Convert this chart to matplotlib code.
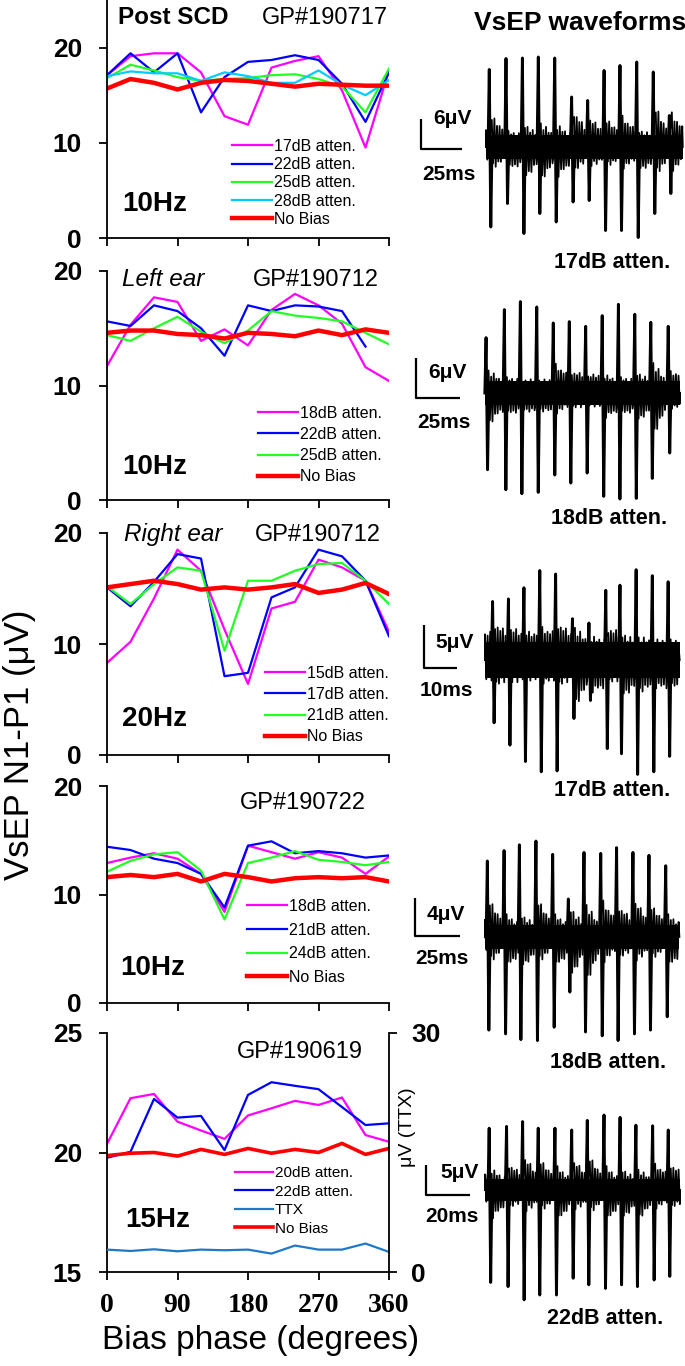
import numpy as np
import matplotlib
matplotlib.use('Agg')
import matplotlib.pyplot as plt

plt.rcParams['font.family'] = ['Liberation Sans', 'DejaVu Sans']

# ---------------- data: bias phase curves ----------------
phase = [0, 30, 60, 90, 120, 150, 180, 210, 240, 270, 300, 330, 360]
phase_ticks = [0, 90, 180, 270, 360]
nan = float('nan')

# Panel A: Post SCD, GP#190717, 10 Hz
a_17db = [17.1, 19.1, 19.4, 19.4, 17.4, 12.8, 11.9, 17.9, 18.6, 19.1, 15.5, 9.5, 17.6]
a_22db = [17.1, 19.4, 17.4, 19.4, 13.2, 16.9, 18.5, 18.7, 19.2, 18.7, 16.2, 12.2, 17.4]
a_25db = [16.8, 18.2, 17.6, 16.9, 16.5, 16.7, 16.8, 17.1, 17.2, 16.7, 15.9, 13.2, 17.8]
a_28db = [17.0, 17.5, 17.3, 17.3, 16.5, 17.4, 17.0, 16.3, 16.3, 17.6, 16.1, 15.0, 16.6]
a_nobias = [15.7, 16.7, 16.3, 15.6, 16.3, 16.6, 16.5, 16.2, 15.9, 16.2, 16.1, 16.0, 16.0]

# Panel B: Left ear, GP#190712, 10 Hz
b_18db = [11.7, 15.3, 17.7, 17.3, 13.9, 14.9, 13.5, 16.6, 18.0, 17.0, 15.4, 11.6, 10.4]
b_22db = [15.6, 15.2, 17.0, 16.5, 15.0, 12.6, 17.0, 16.5, 17.0, 16.9, 16.5, 13.4, nan]
b_25db = [14.4, 13.9, 15.0, 16.0, 14.7, 13.7, 14.8, 16.5, 16.1, 15.9, 15.6, 14.6, 13.6]
b_nobias = [14.6, 14.8, 14.8, 14.5, 14.4, 14.1, 14.6, 14.5, 14.3, 14.8, 14.4, 14.9, 14.6]

# Panel C: Right ear, GP#190712, 20 Hz
c_15db = [8.3, 10.2, 14.1, 18.5, 16.6, 11.3, 6.4, 13.2, 13.8, 17.6, 16.9, 15.7, 11.1]
c_17db = [15.1, 13.4, 15.6, 18.1, 17.7, 7.1, 7.4, 14.2, 15.1, 18.5, 17.9, 15.7, 10.7]
c_21db = [15.2, 13.6, 15.4, 16.9, 16.6, 9.4, 15.7, 15.7, 16.6, 17.2, 17.3, 15.7, 13.6]
c_nobias = [15.1, 15.4, 15.7, 15.4, 14.9, 15.1, 14.9, 15.1, 15.4, 14.6, 14.9, 15.5, 14.5]

# Panel D: GP#190722, 10 Hz
d_18db = [12.9, 13.4, 13.8, 13.3, 11.9, 8.4, 14.5, 13.9, 13.3, 13.9, 13.4, 11.9, 13.5]
d_21db = [14.4, 14.1, 13.3, 12.9, 11.9, 8.8, 14.5, 14.9, 13.8, 14.0, 13.8, 13.4, 13.6]
d_24db = [12.1, 13.1, 13.7, 13.9, 12.2, 7.7, 12.9, 13.4, 14.0, 13.2, 13.0, 12.7, 13.0]
d_nobias = [11.6, 11.8, 11.6, 11.9, 11.2, 11.9, 11.6, 11.2, 11.5, 11.6, 11.5, 11.6, 11.2]

# Panel E: GP#190619, 15 Hz (TTX on right axis)
e_20db = [20.36, 22.27, 22.45, 21.29, 20.92, 20.57, 21.55, 21.85, 22.16, 21.99, 22.30, 20.73, 20.45]
e_22db = [19.78, 20.03, 22.24, 21.46, 21.53, 20.10, 22.41, 22.94, 22.79, 22.65, 21.90, 21.15, 21.22]
e_nobias = [19.87, 19.97, 20.00, 19.85, 20.13, 19.92, 20.17, 19.97, 20.13, 20.00, 20.38, 19.92, 20.17]
e_ttx = [2.81, 2.64, 2.85, 2.60, 2.81, 2.73, 2.81, 2.31, 3.32, 2.81, 2.81, 3.57, 2.52]

# ---------------- data: VsEP waveforms (peak times ms, peaks uV) ----------------
w1_ms = [2.0, 12.2, 22.2, 31.9, 41.9, 52.2, 62.0, 72.0, 81.7, 91.9, 102.0, 111.8]
w1_pos = [15.5, 17.7, 17.8, 18.0, 17.8, 10.0, 9.3, 15.3, 16.3, 17.0, 15.0, 6.3]
w1_neg = [16.0, 11.3, 17.3, 13.3, 15.0, 11.0, 10.7, 16.7, 16.7, 18.1, 13.3, 9.3]
w1_ring = [5.7, 4.0, 5.9, 6.3, 5.7, 6.7, 5.3, 5.0, 5.7, 4.3, 7.3, 6.3]
w1_noise, w1_len = 2.6, 120.0

w2_ms = [0.6, 11.0, 20.1, 29.4, 38.8, 47.9, 57.2, 66.6, 75.8, 85.1, 94.2, 104.1]
w2_pos = [8.3, 12.5, 13.7, 12.9, 10.5, 10.7, 10.0, 11.6, 13.3, 11.8, 10.6, 10.0]
w2_neg = [11.5, 14.5, 15.1, 14.9, 12.3, 13.5, 12.0, 15.5, 15.9, 15.8, 12.8, 9.0]
w2_ring = [4.5, 3.0, 2.5, 2.5, 4.0, 3.0, 2.5, 3.5, 3.0, 4.0, 6.0, 3.0]
w2_noise, w2_len = 2.0, 110.8

w3_ms = [2.3, 7.1, 11.8, 16.6, 21.4, 26.5, 31.5, 36.6, 40.9, 45.8, 50.7, 55.5]
w3_pos = [6.8, 7.1, 8.4, 10.4, 10.0, 4.8, 4.3, 8.1, 8.7, 10.5, 9.8, 9.1]
w3_neg = [7.3, 9.9, 11.8, 13.0, 12.9, 6.8, 4.7, 10.3, 10.9, 13.3, 13.0, 11.2]
w3_ring = [4.0, 3.5, 3.0, 3.5, 4.0, 5.0, 3.5, 3.5, 4.0, 3.5, 3.0, 3.0]
w3_noise, w3_len = 2.3, 59.0

w4_ms = [1.3, 10.6, 19.1, 28.3, 37.6, 46.3, 55.0, 64.3, 73.1, 82.2, 91.1, 100.4]
w4_pos = [8.0, 9.1, 9.7, 10.1, 8.7, 4.0, 8.9, 8.8, 9.4, 8.9, 8.6, 7.5]
w4_neg = [9.8, 10.2, 10.8, 10.9, 9.5, 5.8, 10.0, 10.4, 10.9, 10.2, 9.8, 8.4]
w4_ring = [3.5, 3.0, 3.0, 3.5, 3.0, 4.0, 4.5, 3.5, 3.0, 3.5, 3.0, 3.0]
w4_noise, w4_len = 1.4, 108.0

w5_ms = [1.9, 9.8, 17.1, 24.2, 31.8, 39.4, 46.5, 54.1, 61.4, 68.6, 76.2, 83.3]
w5_pos = [10.3, 10.6, 11.4, 10.3, 10.3, 10.0, 11.6, 12.5, 12.1, 10.8, 10.7, 10.0]
w5_neg = [15.4, 16.1, 18.3, 17.5, 17.5, 14.7, 15.8, 16.4, 15.8, 16.1, 15.0, 14.4]
w5_ring = [4.5, 4.0, 5.0, 4.5, 5.0, 4.5, 5.0, 5.0, 4.5, 4.5, 4.0, 4.0]
w5_noise, w5_len = 2.0, 88.6

# ---------------- figure ----------------
W, H, DPI = 685, 1366, 100
fig = plt.figure(figsize=(W / DPI, H / DPI), dpi=DPI)

MAG, BLU, GRN, CYN, RED, TTXC = '#FF00FF', '#0000FF', '#22FF22', '#00CCFF', '#FF0000', '#1F78C8'


def px_axes(l, t, r, b, **kw):
    return fig.add_axes([l / W, 1 - b / H, (r - l) / W, (b - t) / H], **kw)


def ftext(x, y, s, **kw):
    kw.setdefault('va', 'center')
    return fig.text(x / W, 1 - y / H, s, **kw)


def style_line_axes(ax, ylim, yticks, bottom=False):
    ax.set_xlim(0, 360)
    ax.set_ylim(*ylim)
    for s in ('top', 'right'):
        ax.spines[s].set_visible(False)
    for s in ('left', 'bottom'):
        ax.spines[s].set_linewidth(1.3)
    ax.set_yticks(yticks, [str(v) for v in yticks], fontsize=19, fontweight='bold')
    if bottom:
        ax.set_xticks(phase_ticks, [str(v) for v in phase_ticks], fontsize=20,
                      fontweight='bold', family='Liberation Serif')
    else:
        ax.set_xticks(phase_ticks)
        ax.tick_params(axis='x', labelbottom=False)
    ax.tick_params(axis='both', direction='out', length=6, width=1.3)
    ax.tick_params(axis='y', pad=12)
    ax.tick_params(axis='x', pad=9)
    ax.patch.set_alpha(0)


def legend_at(ax, x_px, y_px, size=11.5, spacing=0.0, handles=None, labels=None):
    kw = dict(loc='upper left', bbox_to_anchor=(x_px / W, 1 - y_px / H),
              bbox_transform=fig.transFigure, frameon=False, fontsize=size,
              borderpad=0, borderaxespad=0, handlelength=2.5, handletextpad=0.1,
              labelspacing=spacing)
    if handles is None:
        ax.legend(**kw)
    else:
        ax.legend(handles, labels, **kw)


# Panel A
axA = px_axes(107, 0, 389, 238)
axA.plot(phase, a_17db, color=MAG, lw=1.6, label='17dB atten.')
axA.plot(phase, a_22db, color=BLU, lw=1.6, label='22dB atten.')
axA.plot(phase, a_25db, color=GRN, lw=1.6, label='25dB atten.')
axA.plot(phase, a_28db, color=CYN, lw=1.6, label='28dB atten.')
axA.plot(phase, a_nobias, color=RED, lw=3.2, label='No Bias')
style_line_axes(axA, (0, 25), [0, 10, 20])
legend_at(axA, 232, 139, spacing=0.2)
ftext(118, 18, 'Post SCD', fontsize=17.5, fontweight='bold')
ftext(262, 18, 'GP#190717', fontsize=17)
ftext(122, 204, '10Hz', fontsize=20, fontweight='bold')

# Panel B
axB = px_axes(107, 271, 389, 500)
axB.plot(phase, b_18db, color=MAG, lw=1.6, label='18dB atten.')
axB.plot(phase, b_22db, color=BLU, lw=1.6, label='22dB atten.')
axB.plot(phase, b_25db, color=GRN, lw=1.6, label='25dB atten.')
axB.plot(phase, b_nobias, color=RED, lw=3.2, label='No Bias')
style_line_axes(axB, (0, 20), [0, 10, 20])
legend_at(axB, 258, 406, spacing=0.38)
ftext(122, 280, 'Left ear', fontsize=17.5, style='italic')
ftext(253, 280, 'GP#190712', fontsize=17)
ftext(122, 467, '10Hz', fontsize=20, fontweight='bold')

# Panel C
axC = px_axes(107, 533, 389, 755)
axC.plot(phase, c_15db, color=MAG, lw=1.6, label='15dB atten.')
axC.plot(phase, c_17db, color=BLU, lw=1.6, label='17dB atten.')
axC.plot(phase, c_21db, color=GRN, lw=1.6, label='21dB atten.')
axC.plot(phase, c_nobias, color=RED, lw=3.2, label='No Bias')
style_line_axes(axC, (0, 20), [0, 10, 20])
legend_at(axC, 265, 666, spacing=0.38)
ftext(124, 535, 'Right ear', fontsize=17.5, style='italic')
ftext(255, 535, 'GP#190712', fontsize=17)
ftext(122, 719, '20Hz', fontsize=20, fontweight='bold')

# Panel D
axD = px_axes(107, 786, 389, 1003)
axD.plot(phase, d_18db, color=MAG, lw=1.6, label='18dB atten.')
axD.plot(phase, d_21db, color=BLU, lw=1.6, label='21dB atten.')
axD.plot(phase, d_24db, color=GRN, lw=1.6, label='24dB atten.')
axD.plot(phase, d_nobias, color=RED, lw=3.2, label='No Bias')
style_line_axes(axD, (0, 20), [0, 10, 20])
legend_at(axD, 247, 899, spacing=0.54)
ftext(240, 803, 'GP#190722', fontsize=17)
ftext(120, 968, '10Hz', fontsize=20, fontweight='bold')

# Panel E
axE = px_axes(107, 1033, 389, 1272)
axE.plot(phase, e_20db, color=MAG, lw=1.6, label='20dB atten.')
axE.plot(phase, e_22db, color=BLU, lw=1.6, label='22dB atten.')
style_line_axes(axE, (15, 25), [15, 20, 25], bottom=True)
axE2 = axE.twinx()
axE2.plot(phase, e_ttx, color=TTXC, lw=1.6, label='TTX')
axE2.set_ylim(0, 30)
axE2.set_yticks([0, 30], ['0', '30'], fontsize=19, fontweight='bold')
axE2.tick_params(axis='y', direction='out', length=6, width=1.3, pad=10)
axE2.spines['top'].set_visible(False)
axE2.spines['left'].set_visible(False)
axE2.spines['bottom'].set_visible(False)
axE2.spines['right'].set_linewidth(1.3)
axE.plot(phase, e_nobias, color=RED, lw=2.6, label='No Bias')
hA, lA = axE.get_legend_handles_labels()
hB, lB = axE2.get_legend_handles_labels()
legend_at(axE2, 235, 1166, size=11, spacing=0.3,
          handles=[hA[0], hA[1], hB[0], hA[2]], labels=[lA[0], lA[1], lB[0], lA[2]])
ftext(237, 1052, 'GP#190619', fontsize=17)
ftext(125, 1220, '15Hz', fontsize=20, fontweight='bold')
ftext(407, 1127, 'μV (TTX)', fontsize=14, rotation=90, ha='center')

# axis labels
ftext(20, 745, 'VsEP N1-P1 (μV)', fontsize=25, rotation=90, ha='center')
ftext(261, 1340, 'Bias phase (degrees)', fontsize=24, ha='center')

# cyclic multipliers giving the background trace its jagged texture
TEXTURE = [1.0, 0.75, 0.95, 0.6, 1.1, 0.8, 0.9, 0.65]


# ---------------- waveforms ----------------
def wave_panel(t_ms, pos, neg, ring, noise, length_ms, x0_px, base_px, ppms, ppuv,
               bar_uv, bar_ms, corner_px, uv_lbl_px, ms_lbl_px, label, label_px):
    l, r = 400, 685
    top, bot = base_px - 125, base_px + 125
    ax = px_axes(l, top, r, bot)
    ax.set_xlim((l - x0_px) / ppms, (r - x0_px) / ppms)
    ax.set_ylim(-(bot - base_px) / ppuv, (base_px - top) / ppuv)
    ax.axis('off')
    d = 1.0 / ppms  # one pixel in ms

    # background activity (zig-zag) with ringing after each response
    tt, yy = [0.0], [0.0]
    starts = [0.0] + [tk + 2.5 * d for tk in t_ms]
    ends = [t_ms[0] - d] + [tk - d for tk in t_ms[1:]] + [length_ms]
    rings = [noise * 1.3] + list(ring)
    j = 0
    for s, e, rg in zip(starts, ends, rings):
        t = s
        sign = 1
        while t < e:
            frac = min(1.0, (t - s) / (12 * d))
            amp = rg + (1.3 * noise - rg) * frac
            tt.append(t)
            yy.append(sign * amp * TEXTURE[j % len(TEXTURE)])
            sign = -sign
            j += 1
            t += 1.3 * d
    tt.append(length_ms)
    yy.append(0.0)
    ax.fill_between([0, length_ms], [-0.9 * noise] * 2, [0.9 * noise] * 2,
                    color='black', lw=0)
    ax.plot(tt, yy, color='black', lw=1.3)

    # main responses
    for tk, p, n in zip(t_ms, pos, neg):
        ax.plot([tk - 1.2 * d, tk, tk + 1.5 * d, tk + 2.7 * d], [0, p, -n, 0],
                color='black', lw=2.1)

    # scale bar
    cx = (corner_px[0] - x0_px) / ppms
    cy = (base_px - corner_px[1]) / ppuv
    ax.plot([cx, cx, cx + bar_ms], [cy + bar_uv, cy, cy], color='black', lw=1.6,
            clip_on=False, solid_capstyle='butt')
    ftext(uv_lbl_px[0], uv_lbl_px[1], f'{bar_uv:g}μV', fontsize=15, fontweight='bold')
    ftext(ms_lbl_px[0], ms_lbl_px[1], f'{bar_ms:g}ms', fontsize=15, fontweight='bold')
    ftext(label_px[0], label_px[1], label, fontsize=15.5, fontweight='bold', ha='center')


wave_panel(w1_ms, w1_pos, w1_neg, w1_ring, w1_noise, w1_len, 486, 147, 1.64, 5.0,
           6, 25, (421, 149), (433, 119), (422, 175), '17dB atten.', (612, 263))
wave_panel(w2_ms, w2_pos, w2_neg, w2_ring, w2_noise, w2_len, 485, 393, 1.76, 6.67,
           6, 25, (416, 398), (428, 372), (417, 422), '18dB atten.', (609, 518))
wave_panel(w3_ms, w3_pos, w3_neg, w3_ring, w3_noise, w3_len, 485, 660, 3.3, 8.6,
           5, 10, (424, 668), (435, 643), (420, 690), '17dB atten.', (612, 790))
wave_panel(w4_ms, w4_pos, w4_neg, w4_ring, w4_noise, w4_len, 485, 937, 1.8, 9.5,
           4, 25, (415, 936), (427, 915), (415, 959), '18dB atten.', (608, 1063))
wave_panel(w5_ms, w5_pos, w5_neg, w5_ring, w5_noise, w5_len, 485, 1190, 2.2, 6.0,
           5, 20, (426, 1195), (440, 1172), (425, 1217), '22dB atten.', (605, 1318))

ftext(580, 23, 'VsEP waveforms', fontsize=19, fontweight='bold', ha='center')

fig.savefig('out.png', dpi=DPI)
